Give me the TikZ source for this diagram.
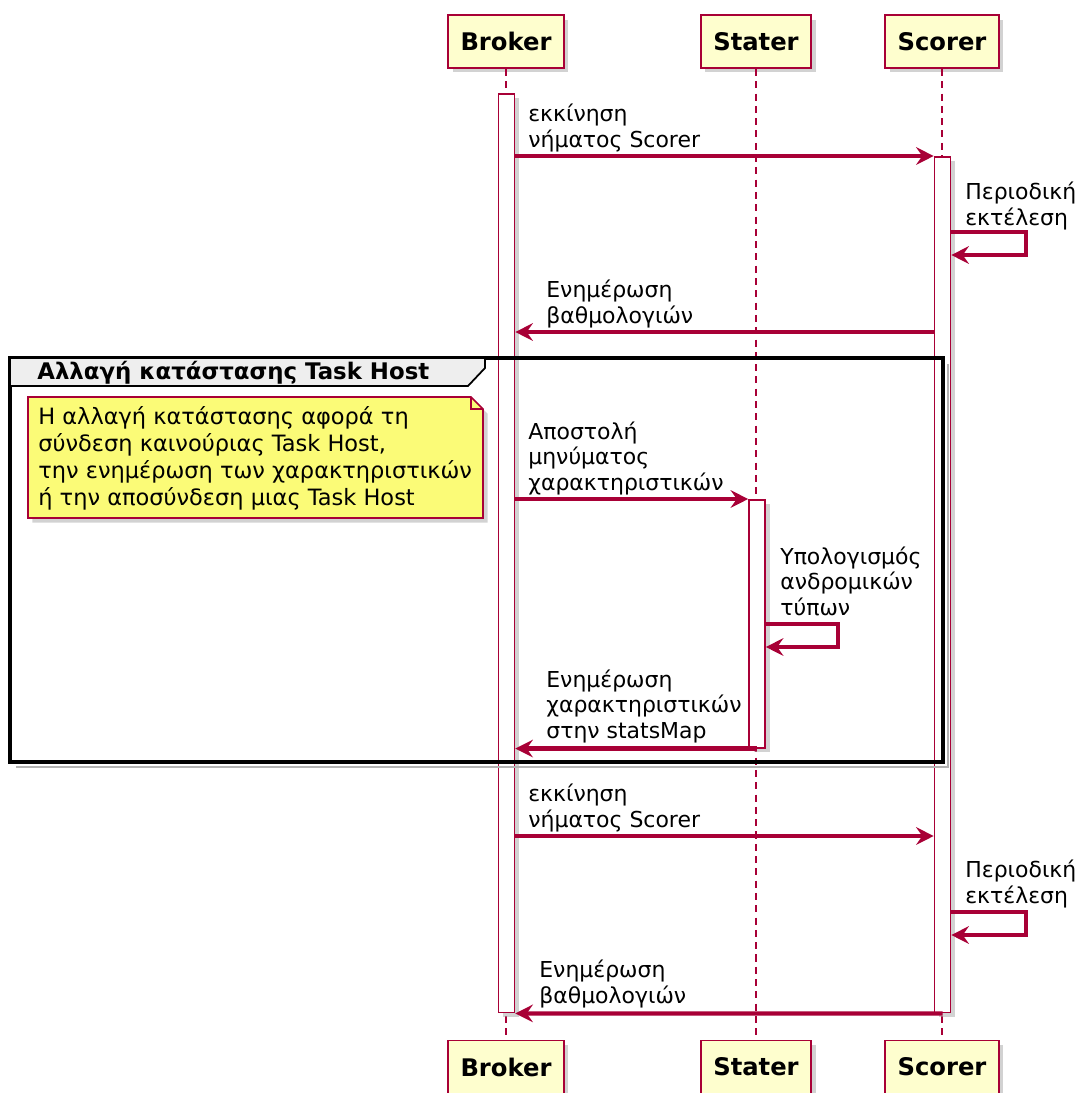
\documentclass[tikz,border=0pt]{standalone}
\usepackage{fontspec}
\setmainfont{DejaVu Sans}
\usetikzlibrary{arrows.meta, shadows, positioning}
\definecolor{umlred}{HTML}{A80036}
\definecolor{umlyellow}{HTML}{FEFECE}
\definecolor{notecolor}{HTML}{FBFB77}
\definecolor{groupgray}{HTML}{EEEEEE}

\tikzset{
  shade/.style={drop shadow={shadow xshift=0.09cm, shadow yshift=-0.09cm, fill=black!35}},
  part/.style={draw=umlred, fill=umlyellow, line width=1.1pt, minimum height=1.06cm,
    inner xsep=0.25cm, font=\bfseries\fontsize{13.8}{16}\selectfont, shade},
  life/.style={draw=umlred, line width=0.7pt, dash pattern=on 4pt off 3pt},
  actbar/.style={draw=umlred, fill=white, line width=0.9pt, minimum width=0.32cm,
    anchor=north, inner sep=0pt, shade},
  msg/.style={draw=umlred, line width=2.4pt, -{Stealth[length=10pt, width=10pt, inset=3.5pt]}},
  lbl/.style={anchor=base west, align=left, inner sep=0pt, font=\fontsize{12.5}{14.5}\selectfont},
}

\begin{document}
\begin{tikzpicture}[x=0.02cm, y=-0.02cm]
    \useasboundingbox (0,0) rectangle (1078,1093);

    % Participants (top and bottom) and lifelines
    \foreach \nm/\txt/\x in {brk/Broker/506, sta/Stater/756, sco/Scorer/942} {
        \node[part] (\nm-top) at (\x,41.5) {\txt};
        \node[part] (\nm-bot) at (\x,1067) {\txt};
        \draw[life] (\nm-top.south) -- (\nm-bot.north);
    }

    % Activation bars
    \node[actbar, minimum height=18.38cm] (brkBar) at (506.5,93) {};
    \node[actbar, minimum height=17.12cm] (scoBar) at (942.5,156) {};
    \node[actbar, minimum height=4.96cm] (staBar) at (757,499) {};

    % Group frame
    \draw[black!30, line width=1.6pt] (948,364) -- (948,767) -- (16,767);
    \draw[black, line width=2pt] (10,358) rectangle (943,762);
    \draw[black, line width=1pt, fill=groupgray] (10,358) -- (485,358) -- (485,368)
        -- (468,386) -- (10,386) -- cycle;
    \node[lbl, font=\bfseries\fontsize{13}{15}\selectfont] (grpTitle) at (37,379)
        {Αλλαγή κατάστασης Task Host};

    % Note
    \filldraw[draw=umlred, fill=notecolor, line width=0.9pt, shade] (28,397) -- (471,397)
        -- (483,409) -- (483,518) -- (28,518) -- cycle;
    \draw[umlred, line width=0.9pt] (471,397) -- (471,409) -- (483,409);
    \node[lbl, font=\fontsize{12.8}{15.2}\selectfont] (noteTxt) at (38,505)
        {Η αλλαγή κατάστασης αφορά τη\\σύνδεση καινούριας Task Host,\\την ενημέρωση των χαρακτηριστικών\\ή την αποσύνδεση μιας Task Host};

    % Message heights
    \coordinate (t2a) at (0,232);
    \coordinate (t2b) at (0,255);
    \coordinate (t3) at (0,332);
    \coordinate (t7a) at (0,624);
    \coordinate (t7b) at (0,647);
    \coordinate (t9) at (0,836);
    \coordinate (t10a) at (0,912);
    \coordinate (t10b) at (0,935);

    % Messages
    \draw[msg] (brkBar.east |- scoBar.north) -- (scoBar.north west);
    \node[lbl] (m1) at (528,147) {εκκίνηση\\νήματος Scorer};

    \draw[msg] (scoBar.east |- t2a) -- ++(75,0) |- (scoBar.east |- t2b);
    \node[lbl] (m2) at (965,225) {Περιοδική\\εκτέλεση};

    \draw[msg] (scoBar.west |- t3) -- (brkBar.east |- t3);
    \node[lbl] (m3) at (546,323) {Ενημέρωση\\βαθμολογιών};

    \draw[msg] (brkBar.east |- staBar.north) -- (staBar.north west);
    \node[lbl] (m6) at (528,490) {Αποστολή\\μηνύματος\\χαρακτηριστικών};

    \draw[msg] (staBar.east |- t7a) -- ++(72,0) |- (staBar.east |- t7b);
    \node[lbl] (m7) at (780,615) {Υπολογισμός\\ανδρομικών\\τύπων};

    \draw[msg] (staBar.south) -- (brkBar.east |- staBar.south);
    \node[lbl] (m8) at (546,738) {Ενημέρωση\\χαρακτηριστικών\\στην statsMap};

    \draw[msg] (brkBar.east |- t9) -- (scoBar.west |- t9);
    \node[lbl] (m9) at (528,827) {εκκίνηση\\νήματος Scorer};

    \draw[msg] (scoBar.east |- t10a) -- ++(75,0) |- (scoBar.east |- t10b);
    \node[lbl] (m10) at (965,903) {Περιοδική\\εκτέλεση};

    \draw[msg] (scoBar.south) -- (brkBar.south east);
    \node[lbl] (m11) at (539,1003) {Ενημέρωση\\βαθμολογιών};

\end{tikzpicture}
\end{document}
